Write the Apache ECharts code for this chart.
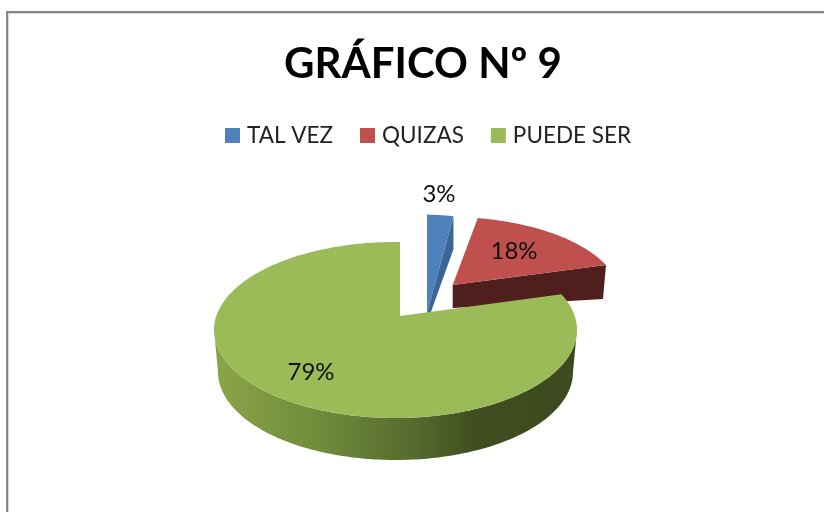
<!DOCTYPE html>
<html>
<head>
<meta charset="utf-8">
<style>
  html, body { margin: 0; padding: 0; background: #fff; }
  #chart { width: 824px; height: 512px; }
</style>
</head>
<body>
<div id="chart"></div>
<script src="https://cdn.jsdelivr.net/npm/echarts@6/dist/echarts.min.js"></script>
<script>
var titleText = 'GRÁFICO Nº 9'
var categories = ['TAL VEZ', 'QUIZAS', 'PUEDE SER']
var shares = [3, 18, 79]

var colors = ['#4F81BD', '#C0504D', '#9BBB59']
var wallColors = ['#3A6594', '#4E1F1D', '#9BBB59']

// the pie is a tilted ellipse, the centre sits above the middle because of the perspective
var ellipse = { x: 395.5, y: 330, rx: 181.5, ry: 88 }
var floor = { x: 395.5, y: 372, rx: 177.5, ry: 88 }
var apex = { x: 400, y: 316 }
var rayX = 181
var rayY = 95

// explode offset and size of each slice, relative to the apex above
var sliceLayout = [
  { dx: 27, dy: -3, sx: 1, sy: 1.33, hInner: 10, hOuter: 33, endDx: 0, label: [439, 194] },
  { dx: 52.7, dy: -31, sx: 0.95, sy: 0.92, hInner: 23, hOuter: 34, endDx: -3, label: [514, 251] },
  { dx: 0, dy: 0, sx: 1, sy: 1, hInner: 0, hOuter: 0, endDx: 0, label: [311, 372] }
]

// where the ray from the apex at this angle (clockwise from north) hits the rim
function rimOffset (deg) {
  var rad = deg * Math.PI / 180
  var dx = Math.sin(rad) * rayX
  var dy = -Math.cos(rad) * rayY
  var ox = apex.x - ellipse.x
  var oy = apex.y - ellipse.y
  var a = dx * dx / (ellipse.rx * ellipse.rx) + dy * dy / (ellipse.ry * ellipse.ry)
  var b = 2 * (ox * dx / (ellipse.rx * ellipse.rx) + oy * dy / (ellipse.ry * ellipse.ry))
  var c = ox * ox / (ellipse.rx * ellipse.rx) + oy * oy / (ellipse.ry * ellipse.ry) - 1
  var t = (-b + Math.sqrt(b * b - 4 * a * c)) / (2 * a)
  return [t * dx, t * dy]
}

function renderSlice (index, params, api) {
  var layout = sliceLayout[index]
  var share = api.value(0)
  var start = api.value(1)
  var from = start * 3.6
  var to = (start + share) * 3.6
  var cx = apex.x + layout.dx
  var cy = apex.y + layout.dy

  var toPoint = function (deg) {
    var off = rimOffset(deg)
    return [cx + off[0] * layout.sx, cy + off[1] * layout.sy]
  }

  var top = [[cx, cy]]
  for (var deg = from; deg < to; deg += 1) {
    top.push(toPoint(deg))
  }
  top.push(toPoint(to))

  var children = []
  if (layout.hOuter > 0) {
    // cut face on the near side of an exploded slice
    var end = toPoint(to)
    children.push({
      type: 'polygon',
      shape: { points: [[cx, cy], end, [end[0] + layout.endDx, end[1] + layout.hOuter], [cx, cy + layout.hInner]] },
      style: { fill: wallColors[index] }
    })
  } else {
    var wall = []
    for (var i = 0; i <= 180; i += 2) {
      var rad = i * Math.PI / 180
      wall.push([ellipse.x + ellipse.rx * Math.cos(rad), ellipse.y + ellipse.ry * Math.sin(rad)])
    }
    for (var j = 180; j >= 0; j -= 2) {
      var rad2 = j * Math.PI / 180
      wall.push([floor.x + floor.rx * Math.cos(rad2), floor.y + floor.ry * Math.sin(rad2)])
    }
    children.push({
      type: 'polygon',
      shape: { points: wall },
      style: {
        fill: {
          type: 'linear',
          x: 0,
          y: 0,
          x2: 1,
          y2: 0,
          colorStops: [
            { offset: 0, color: '#8BA548' },
            { offset: 0.3, color: '#6F8A3B' },
            { offset: 0.55, color: '#566B2E' },
            { offset: 0.72, color: '#3F4D20' },
            { offset: 1, color: '#3D4A1F' }
          ]
        }
      }
    })
  }
  children.push({
    type: 'polygon',
    shape: { points: top },
    style: { fill: colors[index] }
  })
  children.push({
    type: 'text',
    style: {
      x: layout.label[0],
      y: layout.label[1],
      text: share + '%',
      fill: '#111',
      font: '24px Lato',
      align: 'center',
      verticalAlign: 'middle'
    }
  })
  return { type: 'group', children: children }
}

var seriesList = categories.map(function (name, index) {
  var start = shares.slice(0, index).reduce(function (sum, v) { return sum + v }, 0)
  return {
    name: name,
    type: 'custom',
    coordinateSystem: 'none',
    silent: true,
    itemStyle: { color: colors[index] },
    renderItem: function (params, api) {
      return renderSlice(index, params, api)
    },
    data: [[shares[index], start]]
  }
})

var myChart = echarts.init(document.getElementById('chart'), null, { renderer: 'canvas' })
myChart.setOption({
  animation: false,
  backgroundColor: '#fff',
  title: {
    text: titleText,
    left: 284,
    top: 43,
    padding: 0,
    textStyle: {
      fontFamily: 'Lato',
      fontWeight: 'bold',
      fontSize: 42,
      color: '#000'
    }
  },
  legend: {
    data: categories,
    left: 225,
    top: 124,
    padding: 0,
    icon: 'rect',
    itemWidth: 15,
    itemHeight: 15,
    itemGap: 27,
    textStyle: {
      fontFamily: 'Lato',
      fontSize: 22.5,
      color: '#222',
      padding: [0, 0, 0, 2]
    }
  },
  graphic: [
    { type: 'line', shape: { x1: 6, y1: 12, x2: 824, y2: 12 }, style: { stroke: '#868686', lineWidth: 2 } },
    { type: 'line', shape: { x1: 7, y1: 12, x2: 7, y2: 512 }, style: { stroke: '#868686', lineWidth: 2 } },
    { type: 'line', shape: { x1: 8, y1: 13.5, x2: 824, y2: 13.5 }, style: { stroke: '#D9D9D9', lineWidth: 1 } },
    { type: 'line', shape: { x1: 8.5, y1: 13, x2: 8.5, y2: 512 }, style: { stroke: '#D9D9D9', lineWidth: 1 } }
  ],
  series: seriesList
})
</script>
</body>
</html>
